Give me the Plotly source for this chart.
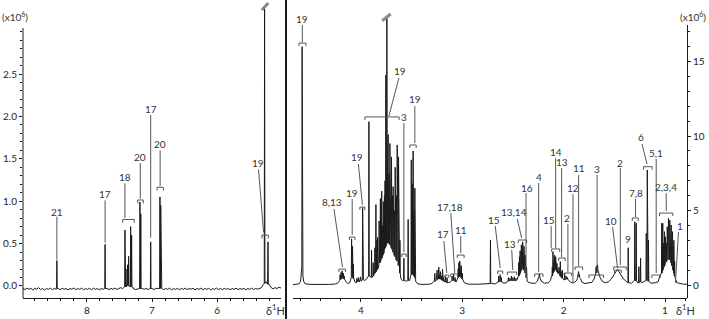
import plotly.graph_objects as go

# ---------------- data ----------------
# left panel: aromatic region, intensity in x10^6
LEFT_BASELINE = [
    (8.98, -0.030), (8.95, -0.042), (8.92, -0.025), (8.89, -0.040), (8.86, -0.028),
    (8.83, -0.046), (8.80, -0.030), (8.77, -0.038), (8.74, -0.020), (8.71, -0.042),
    (8.68, -0.030), (8.65, -0.048), (8.62, -0.030), (8.59, -0.040), (8.56, -0.026),
    (8.53, -0.044), (8.50, -0.028), (8.47, -0.040), (8.44, -0.030), (8.41, -0.045),
    (8.38, -0.026), (8.35, -0.040), (8.32, -0.030), (8.29, -0.046), (8.26, -0.030),
    (8.23, -0.038), (8.20, -0.024), (8.17, -0.044), (8.14, -0.030), (8.11, -0.040),
    (8.08, -0.026), (8.05, -0.045), (8.02, -0.032), (7.99, -0.040), (7.96, -0.028),
    (7.93, -0.044), (7.90, -0.026), (7.87, -0.040), (7.84, -0.030), (7.81, -0.046),
    (7.78, -0.030), (7.75, -0.040), (7.69, -0.030), (7.66, -0.044), (7.63, -0.028),
    (7.60, -0.040), (7.57, -0.024), (7.54, -0.042), (7.51, -0.030), (7.48, -0.020),
    (7.45, -0.030), (7.43, -0.010), (7.30, -0.010), (7.28, -0.035), (7.25, -0.042),
    (7.21, -0.030), (7.15, -0.030), (7.12, -0.040), (7.09, -0.028), (7.06, -0.044),
    (7.04, -0.030), (7.00, -0.030), (6.97, -0.042), (6.94, -0.028), (6.91, -0.030),
    (6.85, -0.030), (6.82, -0.044), (6.79, -0.030), (6.76, -0.040), (6.73, -0.026),
    (6.70, -0.045), (6.67, -0.032), (6.64, -0.040), (6.61, -0.028), (6.58, -0.044),
    (6.55, -0.030), (6.52, -0.040), (6.49, -0.026), (6.46, -0.044), (6.43, -0.030),
    (6.40, -0.038), (6.37, -0.028), (6.34, -0.046), (6.31, -0.030), (6.28, -0.040),
    (6.25, -0.026), (6.22, -0.044), (6.19, -0.030), (6.16, -0.040), (6.13, -0.028),
    (6.10, -0.046), (6.07, -0.032), (6.04, -0.040), (6.01, -0.025), (5.98, -0.042),
    (5.95, -0.030), (5.92, -0.044), (5.89, -0.028), (5.86, -0.040), (5.83, -0.030),
    (5.80, -0.046), (5.77, -0.030), (5.74, -0.040), (5.71, -0.026), (5.68, -0.044),
    (5.65, -0.030), (5.62, -0.040), (5.59, -0.028), (5.56, -0.045), (5.53, -0.030),
    (5.50, -0.040), (5.47, -0.026), (5.44, -0.042), (5.41, -0.030), (5.38, -0.038),
    (5.35, -0.028), (5.32, -0.020), (5.29, 0.020), (5.25, 0.050), (5.20, 0.020),
    (5.17, -0.020), (5.14, -0.034), (5.11, -0.020), (5.08, -0.030), (5.05, -0.015),
    (5.02, -0.025),
]
# (ppm, height, foot level)
LEFT_PEAKS = [
    (8.46, 0.30, -0.03), (7.72, 0.49, -0.03),
    (7.415, 0.66, -0.01), (7.40, 0.20, -0.01), (7.374, 0.25, 0.0), (7.359, 0.35, 0.0),
    (7.328, 0.70, -0.01), (7.313, 0.60, -0.01),
    (7.185, 0.99, -0.03), (7.172, 0.85, -0.03),
    (7.02, 0.52, -0.03),
    (6.878, 1.05, -0.03), (6.866, 0.95, -0.03),
    (5.272, 3.27, 0.03), (5.22, 0.52, 0.02),
]

# right panel: aliphatic region, intensity in x10^6
RIGHT_BASELINE = [
    (4.67, 0.02), (4.64, 0.04), (4.61, 0.08), (4.595, 0.25), (4.588, 0.6), (4.572, 0.6),
    (4.565, 0.25), (4.55, 0.08), (4.50, 0.04), (4.44, 0.03), (4.38, 0.05), (4.32, 0.04),
    (4.26, 0.06), (4.23, 0.12), (4.21, 0.30), (4.17, 0.45), (4.15, 0.25), (4.13, 0.10),
    (4.11, 0.15), (4.07, 0.45), (4.06, 0.20), (4.045, 0.15), (4.032, 0.30), (4.018, 0.20),
    (4.01, 0.35), (3.995, 0.25), (3.99, 0.35), (3.975, 0.35), (3.96, 0.30), (3.94, 0.45),
    (3.93, 0.60), (3.91, 0.60), (3.90, 0.50), (3.87, 0.70),
    (3.605, 0.40), (3.59, 0.30), (3.565, 0.30), (3.55, 0.25), (3.52, 0.30), (3.51, 0.70),
    (3.46, 0.25), (3.44, 0.08), (3.40, 0.04), (3.33, 0.05), (3.30, 0.10), (3.28, 0.25),
    (3.175, 0.20), (3.14, 0.15), (3.12, 0.20), (3.06, 0.20), (3.05, 0.40), (2.98, 0.15),
    (2.94, 0.06), (2.85, 0.05), (2.76, 0.06), (2.73, 0.10), (2.71, 0.10), (2.67, 0.08),
    (2.65, 0.20), (2.60, 0.15), (2.57, 0.12), (2.555, 0.25), (2.46, 0.35), (2.45, 0.50),
    (2.36, 0.25), (2.35, 0.20), (2.32, 0.12), (2.28, 0.12), (2.26, 0.25), (2.248, 0.50),
    (2.232, 0.45), (2.22, 0.25), (2.19, 0.12), (2.15, 0.15), (2.13, 0.30), (2.12, 0.60),
    (2.00, 0.35), (1.98, 0.40), (1.95, 0.30), (1.94, 0.25), (1.92, 0.15), (1.90, 0.15),
    (1.87, 0.30), (1.835, 0.45), (1.82, 0.20), (1.79, 0.10), (1.75, 0.12), (1.72, 0.18),
    (1.70, 0.40), (1.69, 0.70), (1.645, 0.60), (1.64, 0.50), (1.62, 0.25), (1.59, 0.15),
    (1.56, 0.20), (1.53, 0.40), (1.51, 0.65), (1.49, 0.90), (1.45, 0.85), (1.43, 0.60),
    (1.41, 0.40), (1.39, 0.30), (1.37, 0.20), (1.35, 0.15), (1.33, 0.12), (1.31, 0.25),
    (1.27, 0.15), (1.25, 0.20), (1.23, 0.15), (1.20, 0.25), (1.19, 0.30), (1.15, 0.20),
    (1.14, 0.12), (1.10, 0.15), (1.07, 0.20), (1.05, 0.60), (0.90, 0.40), (0.895, 0.35),
    (0.88, 0.15), (0.85, 0.08), (0.82, 0.06), (0.783, 0.05),
]
# (ppm, height, foot level)
RIGHT_PEAKS_OXY = [
    (4.58, 16.0, 1.2),
    (4.205, 0.70, 0.35), (4.195, 0.85, 0.40), (4.185, 0.95, 0.45), (4.175, 0.80, 0.45),
    (4.165, 0.60, 0.40),
    (4.092, 3.10, 0.50), (4.083, 2.60, 0.50), (4.075, 1.40, 0.45),
    (4.04, 0.45, 0.20), (4.025, 0.50, 0.25), (4.005, 0.55, 0.30),
    (3.983, 5.20, 0.35),
]
RIGHT_PEAKS_SUGAR = [
    (3.921, 10.96, 0.6), (3.895, 2.35, 0.5), (3.879, 1.5, 0.6), (3.862, 2.5, 0.8),
    (3.852, 5.4, 0.9), (3.843, 3.0, 1.0), (3.835, 3.2, 1.1), (3.828, 2.2, 1.2),
    (3.820, 4.3, 1.4), (3.813, 3.0, 1.5), (3.808, 5.8, 1.6), (3.801, 4.2, 1.7),
    (3.795, 6.3, 1.8), (3.790, 4.5, 1.9), (3.785, 4.0, 2.0), (3.779, 5.6, 2.1),
    (3.773, 5.3, 2.2), (3.768, 6.0, 2.4), (3.762, 7.0, 2.5), (3.754, 14.1, 2.6),
    (3.744, 17.9, 2.8), (3.737, 8.0, 2.8), (3.731, 10.1, 2.8), (3.726, 6.5, 2.8),
    (3.721, 7.5, 2.8), (3.714, 9.5, 2.7), (3.708, 6.8, 2.6), (3.698, 8.6, 2.5),
    (3.692, 5.5, 2.4), (3.687, 6.0, 2.3), (3.682, 6.6, 2.2), (3.676, 4.8, 2.1),
    (3.670, 5.0, 2.0), (3.662, 7.9, 1.9), (3.656, 5.2, 1.8), (3.650, 6.0, 1.7),
    (3.642, 9.4, 1.6), (3.636, 6.0, 1.5), (3.629, 8.6, 1.3), (3.622, 4.0, 1.1),
    (3.615, 3.0, 0.8),
    (3.576, 1.8, 0.3), (3.534, 4.4, 0.3),
    (3.503, 8.4, 0.7), (3.494, 6.8, 0.75), (3.485, 9.0, 0.7), (3.476, 5.0, 0.6),
    (3.468, 6.5, 0.5),
]
RIGHT_PEAKS_MID = [
    (3.271, 0.78, 0.25), (3.255, 0.60, 0.30), (3.248, 1.00, 0.35), (3.232, 1.19, 0.40),
    (3.222, 0.70, 0.40), (3.215, 0.90, 0.40), (3.205, 0.60, 0.35), (3.195, 1.05, 0.30),
    (3.185, 0.50, 0.25),
    (3.165, 0.60, 0.20), (3.150, 0.50, 0.15),
    (3.100, 0.60, 0.30), (3.085, 0.75, 0.30), (3.070, 0.50, 0.25),
    (3.040, 1.10, 0.50), (3.033, 1.50, 0.55), (3.025, 1.60, 0.60), (3.018, 1.55, 0.55),
    (3.010, 1.30, 0.50), (3.000, 0.80, 0.40),
    (2.722, 3.00, 0.10),
    (2.640, 0.60, 0.20), (2.627, 0.70, 0.25), (2.614, 0.50, 0.20),
    (2.545, 0.50, 0.25), (2.530, 0.45, 0.30), (2.515, 0.60, 0.30), (2.500, 0.50, 0.30),
    (2.485, 0.55, 0.30), (2.470, 0.45, 0.30),
    (2.443, 1.5, 0.6), (2.436, 1.9, 0.7), (2.429, 2.3, 0.8), (2.423, 2.0, 0.9),
    (2.417, 2.7, 1.0), (2.410, 2.4, 1.1), (2.404, 2.9, 1.1), (2.397, 2.3, 1.05),
    (2.391, 2.6, 1.0), (2.385, 1.9, 0.9), (2.379, 2.0, 0.8), (2.373, 1.5, 0.7),
    (2.366, 1.2, 0.5),
    (2.240, 0.75, 0.50),
]
RIGHT_PEAKS_ALIPH = [
    (2.112, 1.2, 0.6), (2.105, 2.24, 0.8), (2.097, 1.6, 0.9), (2.089, 2.0, 1.0),
    (2.084, 1.5, 1.0), (2.079, 1.9, 1.0), (2.072, 1.3, 0.95), (2.066, 1.45, 0.9),
    (2.058, 1.0, 0.8), (2.046, 1.2, 0.75), (2.033, 1.57, 0.6), (2.025, 0.9, 0.55),
    (2.013, 1.0, 0.45), (1.990, 0.8, 0.35), (1.975, 0.6, 0.4), (1.963, 0.5, 0.4),
    (1.860, 0.75, 0.5), (1.852, 0.9, 0.55), (1.845, 0.7, 0.5),
    (1.680, 1.2, 0.8), (1.672, 1.3, 0.9), (1.665, 1.35, 1.0), (1.655, 1.0, 0.85),
    (1.475, 1.0, 0.95), (1.465, 1.05, 0.98),
    (1.363, 2.5, 0.15),
    (1.298, 4.25, 0.3), (1.284, 4.15, 0.3),
    (1.258, 1.23, 0.15), (1.241, 1.8, 0.2),
    (1.185, 3.47, 0.3), (1.175, 7.72, 0.3), (1.163, 3.0, 0.25),
    (1.032, 4.15, 0.8), (1.022, 4.14, 1.0), (1.013, 2.8, 1.2), (1.005, 3.58, 1.3),
    (0.995, 3.24, 1.5), (0.985, 2.8, 1.6), (0.978, 3.91, 1.7), (0.972, 3.3, 1.7),
    (0.966, 4.48, 1.8), (0.960, 3.6, 1.7), (0.953, 4.36, 1.7), (0.946, 3.4, 1.6),
    (0.939, 4.03, 1.5), (0.932, 3.0, 1.3), (0.926, 3.58, 1.2), (0.920, 2.6, 1.0),
    (0.913, 3.0, 0.8), (0.905, 1.6, 0.6),
]

# assignment labels: (text, ppm, intensity)
LEFT_LABELS = [("21", 8.46, 0.876), ("17", 7.72, 1.09), ("18", 7.415, 1.28),
               ("20", 7.18, 1.525), ("17", 7.02, 2.087), ("20", 6.875, 1.67),
               ("19", 5.374, 1.447)]
LEFT_LEADERS = [(8.46, 0.817, 8.46, 0.31), (7.72, 1.01, 7.72, 0.51),
                (7.415, 1.21, 7.415, 0.80), (7.18, 1.45, 7.18, 1.03),
                (7.02, 2.017, 7.02, 0.57), (6.875, 1.60, 6.875, 1.18),
                (5.365, 1.376, 5.288, 0.633)]
LEFT_BRACKETS = [(7.451, 7.272, 0.784), (7.22, 7.134, 1.014),
                 (6.923, 6.826, 1.164), (5.312, 5.215, 0.60)]
LEFT_BREAKS = [(5.315, 3.255, 5.215, 3.337)]

RIGHT_LABELS = [("19", 4.578, 17.85), ("8,13", 4.289, 5.57), ("19", 4.086, 6.17),
                ("19", 4.034, 8.59), ("19", 3.616, 14.36), ("3", 3.576, 11.28),
                ("19", 3.468, 12.48), ("17", 3.189, 3.42), ("17,18", 3.123, 5.23),
                ("11", 3.015, 3.69), ("15", 2.690, 4.36), ("13", 2.532, 2.75),
                ("13,14", 2.493, 4.90), ("16", 2.365, 6.51), ("4", 2.246, 7.25),
                ("15", 2.148, 4.36), ("14", 2.079, 8.93), ("13", 2.020, 8.26),
                ("2", 1.970, 4.50), ("12", 1.911, 6.51), ("11", 1.847, 7.85),
                ("3", 1.672, 7.79), ("10", 1.530, 4.30), ("2", 1.441, 8.21),
                ("9", 1.365, 3.09), ("7,8", 1.291, 6.19), ("6", 1.241, 9.91),
                ("5,1", 1.084, 8.88), ("2,3,4", 0.995, 6.60), ("1", 0.857, 3.98)]
RIGHT_LEADERS = [(4.578, 17.45, 4.578, 16.3), (4.266, 5.10, 4.182, 1.21),
                 (4.086, 5.77, 4.086, 3.36), (4.025, 8.12, 3.985, 5.37),
                 (3.626, 13.89, 3.724, 11.34), (3.576, 10.87, 3.576, 2.21),
                 (3.468, 12.01, 3.468, 9.53), (3.182, 2.95, 3.153, 0.805),
                 (3.113, 4.83, 3.074, 0.805), (3.015, 3.29, 3.015, 2.15),
                 (2.675, 3.96, 2.626, 1.14), (2.512, 2.35, 2.502, 1.01),
                 (2.458, 4.43, 2.414, 3.15), (2.371, 6.17, 2.371, 0.47),
                 (2.246, 6.85, 2.246, 0.87), (2.123, 3.96, 2.123, 2.48),
                 (2.079, 8.52, 2.079, 2.48), (2.020, 7.85, 2.020, 1.88),
                 (1.958, 4.09, 1.958, 0.87), (1.908, 6.10, 1.908, 0.13),
                 (1.852, 7.38, 1.852, 1.28), (1.670, 7.38, 1.670, 0.805),
                 (1.517, 3.89, 1.468, 1.14), (1.441, 7.85, 1.441, 1.34),
                 (1.291, 5.77, 1.291, 4.56), (1.227, 9.46, 1.177, 8.12),
                 (1.087, 8.46, 1.087, 0.805), (0.988, 6.17, 0.988, 4.97),
                 (0.867, 3.56, 0.897, 0.13)]
RIGHT_BRACKETS = [(4.611, 4.542, 16.24), (4.217, 4.151, 1.07), (4.113, 4.059, 3.22),
                  (4.010, 3.961, 5.23), (3.961, 3.623, 11.28), (3.596, 3.554, 2.08),
                  (3.517, 3.455, 9.40), (3.172, 3.133, 0.67), (3.113, 3.047, 0.74),
                  (3.049, 2.982, 2.01), (2.650, 2.601, 0.94), (2.555, 2.463, 0.87),
                  (2.448, 2.365, 3.02), (2.286, 2.204, 0.74), (2.118, 2.039, 2.42),
                  (2.049, 1.985, 1.81), (1.995, 1.921, 0.805), (1.887, 1.813, 1.21),
                  (1.751, 1.606, 0.67), (1.498, 1.432, 1.00), (1.507, 1.382, 1.21),
                  (1.323, 1.264, 4.50), (1.212, 1.126, 7.94), (1.130, 1.047, 0.67),
                  (1.054, 0.923, 4.83)]
RIGHT_BREAKS = [(3.790, 17.74, 3.707, 18.19)]

LEFT_YTICKS = [0.0, 0.5, 1.0, 1.5, 2.0, 2.5]
RIGHT_YTICKS = [0, 5, 10, 15]
LEFT_XTICKS = [8, 7, 6]
RIGHT_XTICKS = [4, 3, 2, 1]

# ---------------- figure ----------------
W, H = 709, 319
FONT = "Lato"
INK = "#1a1a1a"
LABEL_C = "#333333"
LEAD_C = "#555555"


def spectrum(baseline, peaks, w):
    pts = list(baseline)
    for p, h, b in peaks:
        pts += [(p + w, b), (p, h), (p - w, b)]
    pts.sort(key=lambda t: -t[0])
    return [t[0] for t in pts], [t[1] for t in pts]


def px_x(px):
    return px / W


def px_y(py):
    return 1 - py / H


lx, ly = spectrum(LEFT_BASELINE, LEFT_PEAKS, 0.005)
rx, ry = spectrum(RIGHT_BASELINE,
                  RIGHT_PEAKS_OXY + RIGHT_PEAKS_SUGAR + RIGHT_PEAKS_MID + RIGHT_PEAKS_ALIPH,
                  0.003)

fig = go.Figure()
fig.add_trace(go.Scatter(x=lx, y=ly, mode="lines", xaxis="x", yaxis="y",
                         line=dict(color=INK, width=1), hoverinfo="skip"))
fig.add_trace(go.Scatter(x=rx, y=ry, mode="lines", xaxis="x2", yaxis="y2",
                         line=dict(color=INK, width=1), hoverinfo="skip"))

ydom = [px_y(298), 1]
tickfont = dict(family=FONT, size=10, color="#222")
fig.update_layout(
    width=W, height=H, margin=dict(l=0, r=0, t=0, b=0, autoexpand=False),
    plot_bgcolor="white", paper_bgcolor="white", showlegend=False,
    font=dict(family=FONT, size=10, color=LABEL_C),
    xaxis=dict(domain=[px_x(23), px_x(281)], range=[8.98, 5.02], anchor="y",
               showline=True, linecolor=INK, linewidth=1, ticks="outside", ticklen=3,
               tickcolor=INK, tickvals=LEFT_XTICKS, showgrid=False, zeroline=False,
               tickfont=tickfont, automargin=False,
               minor=dict(dtick=0.2, tick0=0, ticks="outside", ticklen=2, tickcolor=INK,
                          showgrid=False)),
    yaxis=dict(domain=ydom, range=[-0.142, 3.373], anchor="x", showline=False,
               ticks="outside", ticklen=3, tickcolor=INK, tickvals=LEFT_YTICKS,
               ticktext=[f"{v:.1f}" for v in LEFT_YTICKS], showgrid=False, zeroline=False,
               tickfont=tickfont, automargin=False,
               minor=dict(tickmode="array", tickvals=[i / 10 for i in range(0, 31)],
                          ticks="outside", ticklen=2, tickcolor=INK, showgrid=False)),
    xaxis2=dict(domain=[px_x(293), px_x(687)], range=[4.67, 0.783], anchor="y2",
                showline=True, linecolor=INK, linewidth=1, ticks="outside", ticklen=3,
                tickcolor=INK, tickvals=RIGHT_XTICKS, showgrid=False, zeroline=False,
                tickfont=tickfont, automargin=False,
                minor=dict(dtick=0.2, tick0=0, ticks="outside", ticklen=2, tickcolor=INK,
                           showgrid=False)),
    yaxis2=dict(domain=ydom, range=[-0.872, 19.13], anchor="x2", side="right",
                showline=False, ticks="outside", ticklen=3, tickcolor=INK,
                tickvals=RIGHT_YTICKS, showgrid=False, zeroline=False, tickfont=tickfont,
                automargin=False,
                minor=dict(tickmode="array", tickvals=list(range(0, 18)), ticks="outside",
                           ticklen=2, tickcolor=INK, showgrid=False)),
)

# y-axis lines (stop below the top of the frame, as in the reference)
fig.add_shape(type="line", xref="paper", yref="paper", x0=px_x(23), x1=px_x(23),
              y0=px_y(298), y1=px_y(28), line=dict(color=INK, width=1))
fig.add_shape(type="line", xref="paper", yref="paper", x0=px_x(687.5), x1=px_x(687.5),
              y0=px_y(298), y1=px_y(25), line=dict(color=INK, width=1))
# panel divider
fig.add_shape(type="line", xref="paper", yref="paper", x0=px_x(286), x1=px_x(286),
              y0=0, y1=1, line=dict(color=INK, width=2))


def annotate(labels, leaders, brackets, breaks, xr, yr, tick):
    for t, x, y in labels:
        fig.add_annotation(x=x, y=y, xref=xr, yref=yr, text=t, showarrow=False,
                           font=dict(family=FONT, size=10, color=LABEL_C))
    for x0, y0, x1, y1 in leaders:
        fig.add_shape(type="line", xref=xr, yref=yr, x0=x0, y0=y0, x1=x1, y1=y1,
                      line=dict(color=LEAD_C, width=1))
    for x0, x1, y in brackets:
        fig.add_shape(type="path", xref=xr, yref=yr,
                      path=f"M {x0},{y - tick} L {x0},{y} L {x1},{y} L {x1},{y - tick}",
                      line=dict(color=LEAD_C, width=1))
    for x0, y0, x1, y1 in breaks:
        fig.add_shape(type="line", xref=xr, yref=yr, x0=x0, y0=y0, x1=x1, y1=y1,
                      line=dict(color="#8a8a8a", width=3))


annotate(LEFT_LABELS, LEFT_LEADERS, LEFT_BRACKETS, LEFT_BREAKS, "x", "y", 0.04)
annotate(RIGHT_LABELS, RIGHT_LEADERS, RIGHT_BRACKETS, RIGHT_BREAKS, "x2", "y2", 0.2)

# unit and nucleus labels
unit_font = dict(family=FONT, size=10, color=LABEL_C)
fig.add_annotation(x=0, y=px_y(16), xref="paper", yref="paper", xanchor="left",
                   yanchor="middle", text="(x10<sup>6</sup>)", showarrow=False,
                   font=unit_font)
fig.add_annotation(x=px_x(708), y=px_y(16), xref="paper", yref="paper", xanchor="right",
                   yanchor="middle", text="(x10<sup>6</sup>)", showarrow=False,
                   font=unit_font)
for xl in (264, 674):
    fig.add_annotation(x=px_x(xl), y=px_y(319), xref="paper", yref="paper",
                       xanchor="left", yanchor="bottom", text="δ<sup>1</sup>H",
                       showarrow=False, font=dict(family=FONT, size=11, color=LABEL_C))

# the page body must not add its default 8 px margin around the figure
fig.write_html("out.html", config={"displayModeBar": False},
               post_script="document.body.style.margin='0';document.body.style.padding='0';")
